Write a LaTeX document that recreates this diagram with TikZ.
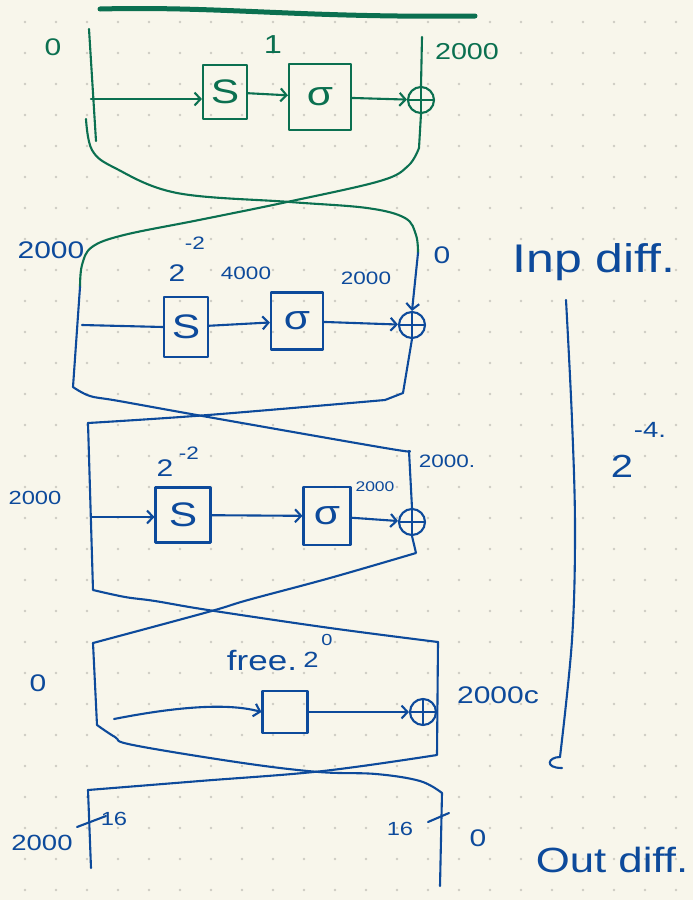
\documentclass[tikz,border=0pt]{standalone}
\usepackage{fontspec}
\setmainfont{Liberation Sans}
\newfontfamily\hand[FakeStretch=1.25]{Liberation Sans}
\usetikzlibrary{arrows.meta}
\definecolor{paper}{HTML}{F8F6EB}
\definecolor{dotc}{HTML}{CECCC3}
\definecolor{inkg}{HTML}{0B7050}
\definecolor{inkb}{HTML}{0D4A9B}
\tikzset{
  ink/.style={line width=2.1pt, line cap=round, line join=round},
  arr/.style={ink, -{Straight Barb[length=6pt, width=13pt, line width=2.1pt]}},
  opbox/.style={draw, ink, inner sep=0pt, font=\hand\fontsize{34}{34}\selectfont},
  xorop/.style={draw, ink, circle, minimum size=26pt, inner sep=0pt,
    path picture={\draw[ink] (path picture bounding box.north) -- (path picture bounding box.south)
                             (path picture bounding box.west) -- (path picture bounding box.east);}},
  lbl/.style={font=\hand\fontsize{#1}{#1}\selectfont, inner sep=0pt},
  lbl/.default=20,
}
\begin{document}
\begin{tikzpicture}[x=1pt,y=-1pt]
% paper and dot grid
\fill[paper] (0,0) rectangle (693,900);
\useasboundingbox (0,0) rectangle (693,900);
\foreach \i in {0,...,21}{\foreach \j in {0,...,28}{\fill[dotc] ({25+31*\i},{22+31*\j}) circle (1.3);}}

% ---------------- first round (green) ----------------
\begin{scope}[color=inkg]
\draw[line width=5pt, line cap=round] (100,9) .. controls (220,6) and (300,18) .. (475,16);
\node[opbox, minimum width=44pt, minimum height=54pt] (s1) at (225,92) {S};
\node[opbox, minimum width=62pt, minimum height=66pt] (g1) at (320,97) {σ};
\node[xorop] (x1) at (421,100) {};
\node[lbl=24] (l1a) at (53,47) {0};
\node[lbl=26] (l1b) at (273,45) {1};
\node[lbl=23] (l1c) at (467,52) {2000};
\coordinate (t1) at (89,29);
\coordinate (b1) at (96,141);
\coordinate (j1) at (91,99);
\coordinate (in1) at (422,37);
\draw[ink] (t1) -- (b1);
\draw[arr] (j1) -- (j1 -| s1.west);
\draw[arr] (s1) -- (g1);
\draw[arr] (g1) -- (x1);
\draw[ink] (in1) -- (x1.north);
% crossing into the second round
\coordinate (c2l) at (80,287);
\coordinate (c2r) at (418,253);
\draw[ink] (x1.south) -- plot[smooth, tension=0.6] coordinates {(419,148) (408,166) (380,181) (287,202) (199,220) (124,235) (92,247) (82,265) (c2l)};
\draw[ink] plot[smooth, tension=0.6] coordinates {(86,119) (92,150) (115,168) (177,193) (290,202) (367,208) (405,218) (416,235) (c2r)};
\end{scope}

% ---------------- second round ----------------
\begin{scope}[color=inkb]
\node[opbox, minimum width=44pt, minimum height=60pt] (s2) at (186,327) {S};
\node[opbox, minimum width=52pt, minimum height=57pt] (g2) at (297,321) {σ};
\node[xorop] (x2) at (412,325) {};
\node[lbl=24] (l2a) at (51,250) {2000};
\node[lbl=24] (l2b) at (177,273) {2};
\node[lbl=18] (l2c) at (195,243) {-2};
\node[lbl=18] (l2d) at (246,273) {4000};
\node[lbl=18] (l2e) at (366,278) {2000};
\node[lbl=24] (l2f) at (442,255) {0};
\node[lbl=40] (inp) at (594,262) {Inp diff.};
\coordinate (j2) at (82,325);
\coordinate (c3l) at (88,423);
\coordinate (c3r) at (409,451);
\draw[arr] (c2r) -- (x2.north);
\draw[ink] (j2) -- (s2.west);
\draw[arr] (s2) -- (g2);
\draw[arr] (g2) -- (x2);
\draw[ink] (c2l) -- plot[smooth, tension=0.6] coordinates {(73,387) (90,396) (119,401) (208,417) (385,448) (c3r)};
\draw[ink] (x2.south) -- (403,393) -- plot[smooth, tension=0.6] coordinates {(385,400) (208,415) (c3l)};

% ---------------- third round ----------------
\node[opbox, minimum width=55pt, minimum height=55pt] (s3) at (183,515) {S};
\node[opbox, minimum width=47pt, minimum height=58pt] (g3) at (327,516) {σ};
\node[xorop] (x3) at (412,522) {};
\node[lbl=19] (l3a) at (35,498) {2000};
\node[lbl=24] (l3b) at (165,468) {2};
\node[lbl=18] (l3c) at (189,453) {-2};
\node[lbl=14] (l3d) at (375,487) {2000};
\node[lbl=18] (l3e) at (447,461) {2000.};
\coordinate (j3) at (91,517);
\coordinate (c4l) at (93,643);
\coordinate (c4r) at (438,642);
\draw[arr] (j3) -- (j3 -| s3.west);
\draw[arr] (s3) -- (g3);
\draw[arr] (g3) -- (x3);
\draw[ink] (c3l) -- plot[smooth, tension=0.6] coordinates {(93,590) (125,597) (155,601) (208,610) (330,628) (c4r)};
\draw[ink] (c3r) -- (x3.north);
\draw[ink] (x3.south) -- plot[smooth, tension=0.6] coordinates {(416,553) (330,578) (248,600) (208,612) (c4l)};

% ---------------- fourth round ----------------
\node[draw, ink, minimum width=45pt, minimum height=42pt] (f4) at (285,712) {};
\node[xorop] (x4) at (423,712) {};
\node[lbl=24] (l4a) at (38,683) {0};
\node[lbl=28] (l4b) at (262,660) {free.};
\node[lbl=22] (l4c) at (311,660) {2};
\node[lbl=16] (l4d) at (327,640) {0};
\node[lbl=24] (l4e) at (498,695) {2000c};
\coordinate (j4) at (114,719);
\coordinate (c5l) at (88,790);
\coordinate (c5r) at (442,793);
\draw[arr] (j4) .. controls (170,708) and (225,702) .. (f4.west);
\draw[arr] (f4) -- (x4);
\draw[ink] (c4l) -- plot[smooth, tension=0.6] coordinates {(97,725) (115,737) (133,745) (243,763) (319,772) (376,774) (420,781) (c5r)};
\draw[ink] (c4r) -- plot[smooth, tension=0.6] coordinates {(437,755) (323,771) (200,781) (c5l)};

% ---------------- output ----------------
\coordinate (e5l) at (91,868);
\coordinate (e5r) at (440,886);
\draw[ink] (c5l) -- (e5l);
\draw[ink] (c5r) -- (e5r);
\draw[ink] (77,827) -- (106,816);
\draw[ink] (428,822) -- (449,813);
\node[lbl=22] (l5a) at (42,843) {2000};
\node[lbl=19] (l5b) at (114,819) {16};
\node[lbl=19] (l5c) at (400,829) {16};
\node[lbl=24] (l5d) at (478,838) {0};
\node[lbl=35] (outd) at (612,860) {Out diff.};

% bracket spanning the inner rounds
\coordinate (br1) at (566,300);
\coordinate (br2) at (560,757);
\draw[ink] plot[smooth, tension=0.6] coordinates {(br1) (572,420) (575,530) (572,640) (br2)};
\draw[ink] (br2) .. controls (548,757) and (544,768) .. (562,768);
\node[lbl=32] (e1) at (622,466) {2};
\node[lbl=22] (e2) at (650,430) {-4.};
\end{scope}
\end{tikzpicture}
\end{document}
